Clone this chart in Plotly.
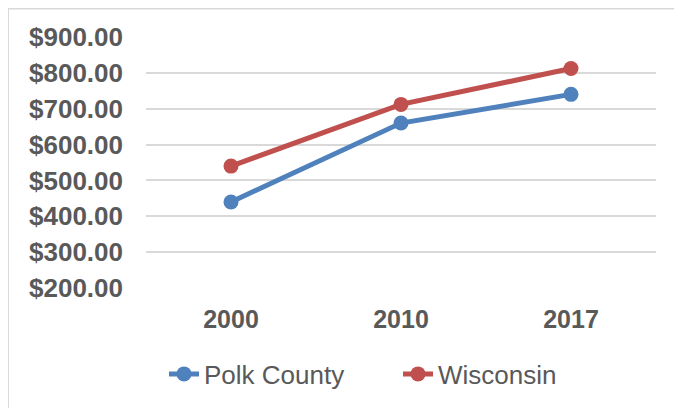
import plotly.graph_objects as go

years = ["2000", "2010", "2017"]
polk_county = [440, 660, 740]
wisconsin = [540, 712, 812]
series_names = ["Polk County", "Wisconsin"]
y_ticks = [200, 300, 400, 500, 600, 700, 800, 900]
y_tick_text = ["$" + format(v, ",.2f") for v in y_ticks]

BLUE = "#4F81BD"
RED = "#C0504D"
TXT = "#595959"
GRID = "#D9D9D9"
FONT = "Liberation Sans, Arial, sans-serif"

fig = go.Figure()
fig.add_trace(go.Scatter(x=years, y=polk_county, name=series_names[0], mode="lines+markers",
                         line=dict(color=BLUE, width=5), marker=dict(color=BLUE, size=15)))
fig.add_trace(go.Scatter(x=years, y=wisconsin, name=series_names[1], mode="lines+markers",
                         line=dict(color=RED, width=5), marker=dict(color=RED, size=15)))

# page has an 8px body margin, so figure coords = reference coords - 8
W, H = 682, 408
L, R, T, B = 138, 34, 28.5, 127.5
pw, ph = W - L - R, H - T - B

fig.update_layout(
    width=W, height=H,
    margin=dict(l=L, r=R, t=T, b=B, autoexpand=False),
    paper_bgcolor="white", plot_bgcolor="white",
    font=dict(family=FONT, color=TXT),
    showlegend=True,
    legend=dict(orientation="h", xref="container", yref="container",
                x=156 / W, xanchor="left", y=(H - 366) / H, yanchor="middle",
                font=dict(size=26, color=TXT, family=FONT), entrywidth=189,
                bgcolor="rgba(0,0,0,0)"),
    xaxis=dict(type="category", categoryorder="array", categoryarray=years,
               range=[-0.5, 2.5], showgrid=False, showline=False, ticks="",
               tickfont=dict(size=25, color=TXT, family=FONT, weight="bold"),
               ticklabelstandoff=14),
    yaxis=dict(range=[200, 900], tickmode="array", tickvals=y_ticks, ticktext=y_tick_text,
               showgrid=True, gridcolor=GRID, gridwidth=2, zeroline=False, showline=False, ticks="",
               tickfont=dict(size=26, color=TXT, family=FONT, weight="bold"),
               ticklabelstandoff=22),
    shapes=[dict(type="rect", xref="paper", yref="paper",
                 x0=(0 - L) / pw, x1=(W + 20 - L) / pw,
                 y0=(H - B - (H + 20)) / ph, y1=(H - B - 0) / ph,
                 line=dict(color=GRID, width=2), fillcolor="rgba(0,0,0,0)", layer="below")],
)
fig.write_html("out.html")
